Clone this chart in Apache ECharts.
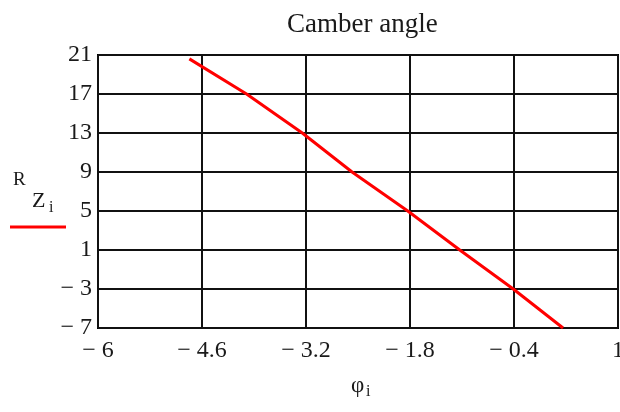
<!DOCTYPE html>
<html>
<head>
<meta charset="utf-8">
<script src="https://cdn.jsdelivr.net/npm/echarts@6/dist/echarts.min.js"></script>
<style>
  html, body { margin: 0; padding: 0; background: #fff; }
  #chart { width: 620px; height: 412px; }
</style>
</head>
<body>
<div id="chart"></div>
<script>
// Camber angle R_Z against phi
const phi = [-4.77, -4.0, -3.25, -2.58, -1.83, -1.13, -0.41, 0.26];
const rz = [20.6, 17, 13, 9, 5, 1, -3, -7];

const xTicks = [-6, -4.6, -3.2, -1.8, -0.4, 1];
const yTicks = [-7, -3, 1, 5, 9, 13, 17, 21];

const titleText = 'Camber angle';

const FONT = 'Liberation Serif';
const INK = '#1a1a1a';

function fmt(v) {
  return v < 0 ? '\u2212 ' + Math.abs(v) : String(v);
}

const chart = echarts.init(document.getElementById('chart'), null, { renderer: 'canvas' });

chart.setOption({
  animation: false,
  backgroundColor: '#fff',
  title: {
    text: titleText,
    left: 282,
    top: 6,
    textStyle: { fontFamily: FONT, fontSize: 27, fontWeight: 'normal', color: INK }
  },
  grid: {
    left: 98, top: 55, right: 2, bottom: 84,
    show: true, borderColor: '#000', borderWidth: 2,
    containLabel: false,
    outerBoundsMode: 'none'
  },
  xAxis: {
    type: 'value',
    min: xTicks[0], max: xTicks[xTicks.length - 1],
    axisLine: { show: false },
    axisTick: { show: false, customValues: xTicks },
    axisLabel: {
      customValues: xTicks,
      formatter: fmt, margin: 11,
      fontFamily: FONT, fontSize: 24, color: INK,
      hideOverlap: false
    },
    splitLine: { show: true, lineStyle: { color: '#111', width: 2 } }
  },
  yAxis: {
    type: 'value',
    min: yTicks[0], max: yTicks[yTicks.length - 1],
    axisLine: { show: false },
    axisTick: { show: false, customValues: yTicks },
    axisLabel: {
      customValues: yTicks,
      formatter: fmt, margin: 6,
      fontFamily: FONT, fontSize: 24, color: INK
    },
    splitLine: { show: true, lineStyle: { color: '#111', width: 2 } }
  },
  series: [{
    type: 'line',
    data: phi.map((p, i) => [p, rz[i]]),
    showSymbol: false,
    symbol: 'none',
    lineStyle: { color: '#ff0000', width: 3 },
    z: 5
  }],
  graphic: [
    { type: 'text', left: 13, top: 171, style: { text: 'R', fontFamily: FONT, fontSize: 19, fill: INK } },
    { type: 'text', left: 32, top: 190, style: { text: 'Z', fontFamily: FONT, fontSize: 22, fill: INK } },
    { type: 'text', left: 49, top: 200, style: { text: 'i', fontFamily: FONT, fontSize: 16, fill: INK } },
    { type: 'line', shape: { x1: 10, y1: 227, x2: 66, y2: 227 }, style: { stroke: '#ff0000', lineWidth: 3 } },
    { type: 'text', left: 351, top: 374, style: { text: '\u03c6', fontFamily: FONT, fontSize: 23, fill: INK } },
    { type: 'text', left: 366, top: 384, style: { text: 'i', fontFamily: FONT, fontSize: 16, fill: INK } }
  ]
});
</script>
</body>
</html>
